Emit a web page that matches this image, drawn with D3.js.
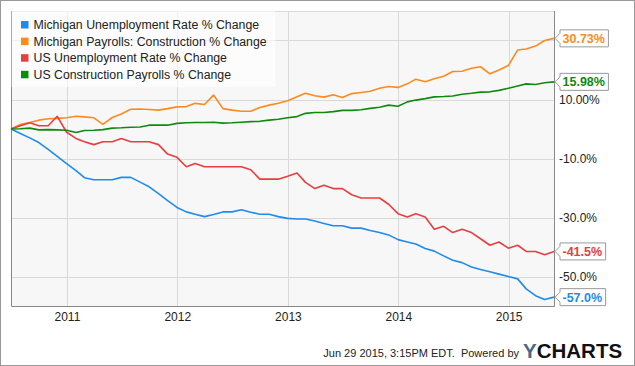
<!DOCTYPE html>
<html>
<head>
<meta charset="utf-8">
<script src="https://cdn.jsdelivr.net/npm/d3@7"></script>
<style>
  body { margin: 0; background: #fff; }
  svg { display: block; font-family: "Liberation Sans", Arial, sans-serif; }
</style>
</head>
<body>
<div id="chart"></div>
<script>
// monthly points, month-end from Jun 2010 to May 2015
const firstMonth = new Date(2010, 6, 1);
const lastMonth = new Date(2015, 6, 1);

const seriesNames = [
  "Michigan Unemployment Rate % Change",
  "Michigan Payrolls: Construction % Change",
  "US Unemployment Rate % Change",
  "US Construction Payrolls % Change"
];
const seriesColors = ["#1e8cec", "#ff8a1c", "#e83e3e", "#0e8a0e"];

const miUnemployment = [0, -1.5, -3.0, -4.6, -6.9, -9.3, -11.7, -14.1, -16.5, -17.2, -17.2, -17.2,
  -16.4, -16.4, -18.0, -19.6, -21.9, -24.3, -26.6, -28.1, -28.9, -29.7, -29.0, -28.1,
  -28.1, -27.4, -28.2, -28.9, -28.9, -29.7, -30.3, -30.5, -30.5, -31.2, -32.0, -32.8,
  -32.8, -33.6, -33.6, -34.4, -35.1, -35.9, -37.5, -38.3, -39.0, -40.5, -41.4, -43.0,
  -44.5, -45.3, -46.8, -47.6, -48.4, -49.2, -50.0, -50.8, -54.2, -56.5, -57.8, -57.0];
const miConstruction = [0, 1.5, 2.2, 3.0, 3.5, 3.6, 3.8, 4.3, 4.1, 3.8, 1.6, 3.9,
  5.1, 6.7, 6.8, 6.6, 6.4, 6.9, 7.5, 7.6, 8.7, 8.3, 11.5, 6.9,
  6.4, 6.0, 6.0, 7.3, 8.1, 8.7, 9.6, 10.9, 12.1, 11.3, 10.8, 11.6,
  10.7, 12.0, 12.4, 12.8, 13.8, 14.4, 14.1, 15.3, 16.9, 16.0, 17.0, 17.9,
  19.5, 19.6, 20.6, 21.1, 18.7, 20.0, 21.5, 26.8, 27.1, 28.1, 30.0, 30.73];
const usUnemployment = [0, 1.1, 2.1, 1.1, 1.1, 4.3, -1.1, -3.2, -4.3, -5.3, -4.3, -4.3,
  -3.2, -4.3, -4.3, -4.3, -5.3, -8.5, -9.6, -12.8, -11.7, -12.8, -12.8, -12.8,
  -12.8, -12.8, -13.8, -17.0, -17.0, -17.0, -16.0, -14.9, -18.1, -20.2, -19.1, -20.2,
  -20.2, -22.3, -23.4, -23.4, -23.4, -25.5, -28.7, -29.8, -28.7, -29.8, -34.0, -33.0,
  -35.1, -34.0, -35.1, -37.2, -39.4, -38.3, -40.4, -39.4, -41.5, -41.5, -42.6, -41.5];
const usConstruction = [0, 0.1, 0.3, -0.3, -0.2, -0.3, -0.4, -1.2, -0.5, -0.4, -0.2, 0.3,
  0.4, 0.6, 0.7, 1.3, 1.3, 1.3, 1.9, 2.1, 2.2, 2.2, 2.3, 2.0,
  2.1, 2.3, 2.5, 2.6, 3.0, 3.3, 3.8, 4.2, 5.3, 5.6, 5.6, 5.9,
  6.3, 6.3, 6.5, 7.0, 7.4, 8.1, 7.7, 9.2, 9.8, 10.3, 10.9, 11.0,
  11.2, 11.8, 12.1, 12.5, 12.6, 13.1, 13.8, 14.6, 15.3, 15.1, 15.7, 15.98];

const endLabels = ["-57.0%", "30.73%", "-41.5%", "15.98%"];
const yTickValues = [10, -10, -30, -50];
const yTickLabels = ["10.00%", "-10.0%", "-30.0%", "-50.0%"];
const yGridValues = [30, 10, -10, -30, -50];
const footerText = "Jun 29 2015, 3:15PM EDT.  Powered by";

const W = 635, H = 366;
const plot = {left: 11, top: 11, right: 554, bottom: 306};
const font = '"Liberation Sans", Arial, sans-serif';

const dates = d3.timeMonth.range(firstMonth, lastMonth).map(d => d3.timeDay.offset(d, -1));
const allSeries = [miUnemployment, miConstruction, usUnemployment, usConstruction];

const svg = d3.select("#chart").append("svg")
    .attr("width", W)
    .attr("height", H);

svg.append("rect")
    .attr("x", 0.5).attr("y", 0.5)
    .attr("width", W - 1).attr("height", H - 1)
    .attr("fill", "#fff")
    .attr("stroke", "#999");

const x = d3.scaleTime()
    .domain([dates[0], dates[dates.length - 1]])
    .range([plot.left, plot.right]);
const y = d3.scaleLinear()
    .domain([-60, 40])
    .range([plot.bottom, plot.top]);

svg.append("rect")
    .attr("x", plot.left).attr("y", plot.top)
    .attr("width", plot.right - plot.left)
    .attr("height", plot.bottom - plot.top)
    .attr("fill", "#f7f7f7");

// grid
const grid = svg.append("g").attr("stroke", "#d9d9d9").attr("stroke-width", 1);
grid.selectAll("line.h")
    .data(yGridValues.concat([40]))
    .join("line")
    .attr("class", "h")
    .attr("x1", plot.left).attr("x2", plot.right)
    .attr("y1", d => Math.round(y(d)) + 0.5)
    .attr("y2", d => Math.round(y(d)) + 0.5);
grid.selectAll("line.v")
    .data(x.ticks(d3.timeYear))
    .join("line")
    .attr("class", "v")
    .attr("y1", plot.top).attr("y2", plot.bottom)
    .attr("x1", d => Math.round(x(d)) + 0.5)
    .attr("x2", d => Math.round(x(d)) + 0.5);

// x axis labels
svg.append("g")
    .attr("transform", `translate(0,${plot.bottom})`)
    .call(d3.axisBottom(x).ticks(d3.timeYear).tickSize(0).tickPadding(6).tickFormat(d3.timeFormat("%Y")))
    .call(g => g.select(".domain").remove())
    .call(g => g.selectAll("text")
        .attr("font-family", font)
        .attr("font-size", 12)
        .attr("fill", "#222"));

// y axis labels
svg.append("g")
    .attr("transform", `translate(${plot.right},0)`)
    .call(d3.axisRight(y).tickValues(yTickValues).tickSize(0).tickPadding(5)
        .tickFormat((d, i) => yTickLabels[i]))
    .call(g => g.select(".domain").remove())
    .call(g => g.selectAll("text")
        .attr("font-family", font)
        .attr("font-size", 12)
        .attr("fill", "#222"));

// frame
svg.append("path")
    .attr("d", `M${plot.left + 0.5},${plot.top}V${plot.bottom + 0.5}H${plot.right + 0.5}V${plot.top}`)
    .attr("fill", "none")
    .attr("stroke", "#888");

// lines
const line = d3.line()
    .x((d, i) => x(dates[i]))
    .y(d => y(d));

svg.append("g")
    .attr("fill", "none")
    .attr("stroke-width", 1.6)
    .attr("stroke-linejoin", "round")
    .selectAll("path")
    .data(allSeries)
    .join("path")
    .attr("stroke", (d, i) => seriesColors[i])
    .attr("d", line);

// legend
svg.append("rect")
    .attr("x", plot.left + 0.5).attr("y", plot.top)
    .attr("width", 264).attr("height", 76)
    .attr("fill", "#fff")
    .attr("fill-opacity", 0.6);

const legend = svg.append("g")
    .selectAll("g")
    .data(seriesNames)
    .join("g")
    .attr("transform", (d, i) => `translate(21,${24.5 + i * 16.6})`);
legend.append("rect")
    .attr("x", 0).attr("y", -3.5)
    .attr("width", 7.5).attr("height", 7.5)
    .attr("fill", (d, i) => seriesColors[i]);
legend.append("text")
    .attr("x", 12.5).attr("y", 4.5)
    .attr("font-family", font)
    .attr("font-size", 12.3)
    .attr("fill", "#222")
    .text(d => d);

// end-of-line flags
const flags = svg.append("g")
    .selectAll("g")
    .data(allSeries)
    .join("g")
    .attr("transform", d => `translate(${plot.right + 1},${y(d[d.length - 1])})`);
flags.append("text")
    .attr("x", 7.5).attr("y", 4.5)
    .attr("font-family", font)
    .attr("font-size", 12.5)
    .attr("font-weight", "bold")
    .attr("fill", (d, i) => seriesColors[i])
    .text((d, i) => endLabels[i])
    .each(function() {
        const w = this.getComputedTextLength() + 11;
        d3.select(this.parentNode).insert("path", "text")
            .attr("d", `M0,0L5,-5V-8.5H${w}V8.5H5V5Z`)
            .attr("fill", "#fff")
            .attr("stroke", "#999");
    });

// footer
svg.append("text")
    .attr("x", 519).attr("y", 357)
    .attr("text-anchor", "end")
    .attr("xml:space", "preserve")
    .style("white-space", "pre")
    .attr("font-family", font)
    .attr("font-size", 11)
    .attr("fill", "#222")
    .text(footerText);

const logo = svg.append("text")
    .attr("x", 523).attr("y", 357.5)
    .attr("font-family", font)
    .attr("font-size", 20.5)
    .attr("font-weight", "bold");
logo.append("tspan").attr("fill", "#4d6785").text("Y");
logo.append("tspan").attr("fill", "#111").text("CHARTS");
</script>
</body>
</html>
